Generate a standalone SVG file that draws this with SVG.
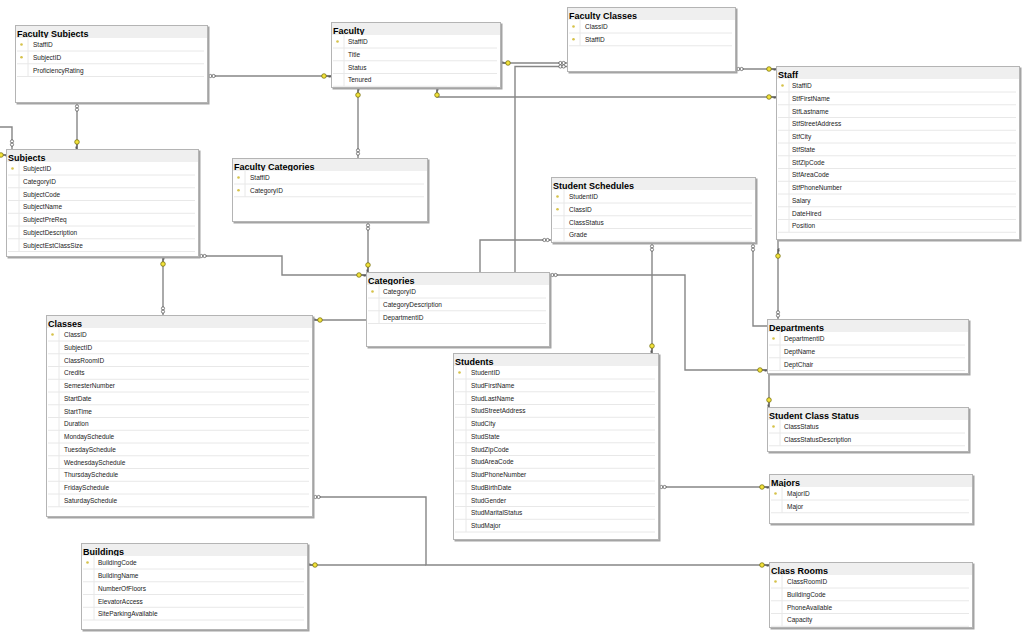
<svg xmlns="http://www.w3.org/2000/svg" xmlns:xlink="http://www.w3.org/1999/xlink" width="1024" height="638" viewBox="0 0 1024 638">
<style>
.sh{fill:#a4a4a4}
.fr{fill:#fff;stroke:#b4b4b4;stroke-width:1}
.hd{fill:#efefef}
.bd{fill:#fff}
.tt{font-family:"Liberation Sans",Arial,sans-serif;font-weight:bold;font-size:9px;fill:#000}
.fd{font-family:"Liberation Sans",Arial,sans-serif;font-size:6.5px;fill:#1a1a1a}
.sp{fill:none;stroke:#e8e8e8;stroke-width:1}
.pk{fill:#d6c24a}
.conn{fill:none;stroke:#868686;stroke-width:1.4}
</style>
<defs>
<g id="key"><path d="M2.3 0H7M5.2 0V1.8M7 0V1.8" fill="none" stroke="#404040" stroke-width="0.8"/><circle r="2.3" fill="#f3e33c" stroke="#6b6400" stroke-width="0.7"/></g>
<g id="inf"><circle cx="-1.6" r="1.6" fill="#fff" stroke="#333" stroke-width="0.6"/><circle cx="1.6" r="1.6" fill="#fff" stroke="#333" stroke-width="0.6"/></g>
</defs>
<rect width="1024" height="638" fill="#fff"/>
<g id="connectors">
<path class="conn" d="M208 76H331"/><use href="#inf" transform="translate(212,76)"/><use href="#key" transform="translate(324,76)"/>
<path class="conn" d="M77 103V149"/><use href="#inf" transform="translate(77,108) rotate(90)"/><use href="#key" transform="translate(77,142) rotate(90)"/>
<path class="conn" d="M358 88V158"/><use href="#key" transform="translate(358,95) rotate(-90)"/><use href="#inf" transform="translate(358,152) rotate(90)"/>
<path class="conn" d="M437 88V97H776"/><use href="#key" transform="translate(437,95) rotate(-90)"/><use href="#key" transform="translate(769,97)"/>
<path class="conn" d="M501 63H567"/><use href="#key" transform="translate(508,63) rotate(180)"/>
<path class="conn" d="M313 320H515V66.5H567"/><use href="#key" transform="translate(320,320) rotate(180)"/>
<use href="#inf" transform="translate(562,63)"/><use href="#inf" transform="translate(562,66.5)"/>
<path class="conn" d="M480 320V240H551"/><use href="#inf" transform="translate(546,240)"/>
<path class="conn" d="M736 69H776"/><use href="#inf" transform="translate(740,69)"/><use href="#key" transform="translate(769,69)"/>
<path class="conn" d="M12 149V127H0"/><use href="#inf" transform="translate(12,143) rotate(90)"/>
<path class="conn" d="M6 155H0"/><use href="#key" transform="translate(1,155)"/>
<path class="conn" d="M163 257V315"/><use href="#key" transform="translate(163,264) rotate(-90)"/><use href="#inf" transform="translate(163,310) rotate(90)"/>
<path class="conn" d="M199 256H282V275H366"/><use href="#inf" transform="translate(203,256)"/><use href="#key" transform="translate(359,275)"/>
<path class="conn" d="M368 222V272"/><use href="#inf" transform="translate(368,227) rotate(90)"/><use href="#key" transform="translate(368,265) rotate(90)"/>
<path class="conn" d="M652 243V353"/><use href="#inf" transform="translate(652,248) rotate(90)"/><use href="#key" transform="translate(652,346) rotate(90)"/>
<path class="conn" d="M753 243V326H769V407"/><use href="#inf" transform="translate(753,248) rotate(90)"/><use href="#key" transform="translate(769,400) rotate(90)"/>
<path class="conn" d="M550 275H685V370H767"/><use href="#inf" transform="translate(554,275)"/><use href="#key" transform="translate(760,370)"/>
<path class="conn" d="M778 240V319"/><use href="#key" transform="translate(778,256) rotate(-90)"/><use href="#inf" transform="translate(778,314) rotate(90)"/>
<path class="conn" d="M659 487H769"/><use href="#inf" transform="translate(663,487)"/><use href="#key" transform="translate(762,487)"/>
<path class="conn" d="M313 497H426V565H769"/><use href="#inf" transform="translate(317,497)"/><use href="#key" transform="translate(762,565)"/>
<path class="conn" d="M308 565H426"/><use href="#key" transform="translate(315,565) rotate(180)"/>
</g>

<g id="faculty-subjects" transform="translate(15,25)">
<rect class="sh" x="1.5" y="1.5" width="193" height="78"/><rect class="fr" x="0.5" y="0.5" width="192" height="77"/><rect class="hd" x="1" y="1" width="191" height="12"/>
<text class="tt" x="2" y="12">Faculty Subjects</text>
<rect class="bd" x="1" y="13" width="191" height="64"/>
<path class="sp" d="M2 26H189M2 38.75H189M2 51.5H189M13 13V51.5"/>
<circle class="pk" cx="6.5" cy="19.5" r="1.3"/><circle class="pk" cx="6.5" cy="32.25" r="1.3"/>
<text class="fd" x="18" y="22">StaffID</text><text class="fd" x="18" y="34.75">SubjectID</text><text class="fd" x="18" y="47.5">ProficiencyRating</text>
</g>

<g id="faculty" transform="translate(331,22)">
<rect class="sh" x="1.5" y="1.5" width="170" height="66"/><rect class="fr" x="0.5" y="0.5" width="169" height="65"/><rect class="hd" x="1" y="1" width="168" height="12"/>
<text class="tt" x="2" y="12">Faculty</text>
<rect class="bd" x="1" y="13" width="168" height="52"/>
<path class="sp" d="M2 26H166M2 38.75H166M2 51.5H166M2 64.25H166M13 13V64.25"/>
<circle class="pk" cx="6.5" cy="19.5" r="1.3"/>
<text class="fd" x="17" y="22">StaffID</text><text class="fd" x="17" y="34.75">Title</text><text class="fd" x="17" y="47.5">Status</text><text class="fd" x="17" y="60.25">Tenured</text>
</g>

<g id="faculty-classes" transform="translate(567,7)">
<rect class="sh" x="1.5" y="1.5" width="169" height="65"/><rect class="fr" x="0.5" y="0.5" width="168" height="64"/><rect class="hd" x="1" y="1" width="167" height="12"/>
<text class="tt" x="2" y="12">Faculty Classes</text>
<rect class="bd" x="1" y="13" width="167" height="51"/>
<path class="sp" d="M2 26H165M2 38.75H165M13 13V38.75"/>
<circle class="pk" cx="6.5" cy="19.5" r="1.3"/><circle class="pk" cx="6.5" cy="32.25" r="1.3"/>
<text class="fd" x="18" y="22">ClassID</text><text class="fd" x="18" y="34.75">StaffID</text>
</g>

<g id="staff" transform="translate(776,66)">
<rect class="sh" x="1.5" y="1.5" width="244" height="174"/><rect class="fr" x="0.5" y="0.5" width="243" height="173"/><rect class="hd" x="1" y="1" width="242" height="12"/>
<text class="tt" x="2" y="12">Staff</text>
<rect class="bd" x="1" y="13" width="242" height="160"/>
<path class="sp" d="M2 26H240M2 38.75H240M2 51.5H240M2 64.25H240M2 77H240M2 89.75H240M2 102.5H240M2 115.25H240M2 128H240M2 140.75H240M2 153.5H240M2 166.25H240M13 13V166.25"/>
<circle class="pk" cx="6.5" cy="19.5" r="1.3"/>
<text class="fd" x="16" y="22">StaffID</text><text class="fd" x="16" y="34.75">StfFirstName</text><text class="fd" x="16" y="47.5">StfLastname</text><text class="fd" x="16" y="60.25">StfStreetAddress</text><text class="fd" x="16" y="73">StfCity</text><text class="fd" x="16" y="85.75">StfState</text><text class="fd" x="16" y="98.5">StfZipCode</text><text class="fd" x="16" y="111.25">StfAreaCode</text><text class="fd" x="16" y="124">StfPhoneNumber</text><text class="fd" x="16" y="136.75">Salary</text><text class="fd" x="16" y="149.5">DateHired</text><text class="fd" x="16" y="162.25">Position</text>
</g>

<g id="subjects" transform="translate(6,149)">
<rect class="sh" x="1.5" y="1.5" width="193" height="108"/><rect class="fr" x="0.5" y="0.5" width="192" height="107"/><rect class="hd" x="1" y="1" width="191" height="12"/>
<text class="tt" x="2" y="12">Subjects</text>
<rect class="bd" x="1" y="13" width="191" height="94"/>
<path class="sp" d="M2 26H189M2 38.75H189M2 51.5H189M2 64.25H189M2 77H189M2 89.75H189M2 102.5H189M13 13V102.5"/>
<circle class="pk" cx="6.5" cy="19.5" r="1.3"/>
<text class="fd" x="17" y="22">SubjectID</text><text class="fd" x="17" y="34.75">CategoryID</text><text class="fd" x="17" y="47.5">SubjectCode</text><text class="fd" x="17" y="60.25">SubjectName</text><text class="fd" x="17" y="73">SubjectPreReq</text><text class="fd" x="17" y="85.75">SubjectDescription</text><text class="fd" x="17" y="98.5">SubjectEstClassSize</text>
</g>

<g id="faculty-categories" transform="translate(232,158)">
<rect class="sh" x="1.5" y="1.5" width="196" height="64"/><rect class="fr" x="0.5" y="0.5" width="195" height="63"/><rect class="hd" x="1" y="1" width="194" height="12"/>
<text class="tt" x="2" y="12">Faculty Categories</text>
<rect class="bd" x="1" y="13" width="194" height="50"/>
<path class="sp" d="M2 26H192M2 38.75H192M13 13V38.75"/>
<circle class="pk" cx="6.5" cy="19.5" r="1.3"/><circle class="pk" cx="6.5" cy="32.25" r="1.3"/>
<text class="fd" x="18" y="22">StaffID</text><text class="fd" x="18" y="34.75">CategoryID</text>
</g>

<g id="student-schedules" transform="translate(551,177)">
<rect class="sh" x="1.5" y="1.5" width="205" height="66"/><rect class="fr" x="0.5" y="0.5" width="204" height="65"/><rect class="hd" x="1" y="1" width="203" height="12"/>
<text class="tt" x="2" y="12">Student Schedules</text>
<rect class="bd" x="1" y="13" width="203" height="52"/>
<path class="sp" d="M2 26H201M2 38.75H201M2 51.5H201M2 64.25H201M13 13V64.25"/>
<circle class="pk" cx="6.5" cy="19.5" r="1.3"/><circle class="pk" cx="6.5" cy="32.25" r="1.3"/>
<text class="fd" x="18" y="22">StudentID</text><text class="fd" x="18" y="34.75">ClassID</text><text class="fd" x="18" y="47.5">ClassStatus</text><text class="fd" x="18" y="60.25">Grade</text>
</g>

<g id="categories" transform="translate(366,272)">
<rect class="sh" x="1.5" y="1.5" width="184" height="75"/><rect class="fr" x="0.5" y="0.5" width="183" height="74"/><rect class="hd" x="1" y="1" width="182" height="12"/>
<text class="tt" x="2" y="12">Categories</text>
<rect class="bd" x="1" y="13" width="182" height="61"/>
<path class="sp" d="M2 26H180M2 38.75H180M2 51.5H180M13 13V51.5"/>
<circle class="pk" cx="6.5" cy="19.5" r="1.3"/>
<text class="fd" x="17" y="22">CategoryID</text><text class="fd" x="17" y="34.75">CategoryDescription</text><text class="fd" x="17" y="47.5">DepartmentID</text>
</g>

<g id="classes" transform="translate(46,315)">
<rect class="sh" x="1.5" y="1.5" width="267" height="202"/><rect class="fr" x="0.5" y="0.5" width="266" height="201"/><rect class="hd" x="1" y="1" width="265" height="12"/>
<text class="tt" x="2" y="12">Classes</text>
<rect class="bd" x="1" y="13" width="265" height="188"/>
<path class="sp" d="M2 26H263M2 38.75H263M2 51.5H263M2 64.25H263M2 77H263M2 89.75H263M2 102.5H263M2 115.25H263M2 128H263M2 140.75H263M2 153.5H263M2 166.25H263M2 179H263M2 191.75H263M13 13V191.75"/>
<circle class="pk" cx="6.5" cy="19.5" r="1.3"/>
<text class="fd" x="18" y="22">ClassID</text><text class="fd" x="18" y="34.75">SubjectID</text><text class="fd" x="18" y="47.5">ClassRoomID</text><text class="fd" x="18" y="60.25">Credits</text><text class="fd" x="18" y="73">SemesterNumber</text><text class="fd" x="18" y="85.75">StartDate</text><text class="fd" x="18" y="98.5">StartTime</text><text class="fd" x="18" y="111.25">Duration</text><text class="fd" x="18" y="124">MondaySchedule</text><text class="fd" x="18" y="136.75">TuesdaySchedule</text><text class="fd" x="18" y="149.5">WednesdaySchedule</text><text class="fd" x="18" y="162.25">ThursdaySchedule</text><text class="fd" x="18" y="175">FridaySchedule</text><text class="fd" x="18" y="187.75">SaturdaySchedule</text>
</g>

<g id="students" transform="translate(453,353)">
<rect class="sh" x="1.5" y="1.5" width="206" height="187"/><rect class="fr" x="0.5" y="0.5" width="205" height="186"/><rect class="hd" x="1" y="1" width="204" height="12"/>
<text class="tt" x="2" y="12">Students</text>
<rect class="bd" x="1" y="13" width="204" height="173"/>
<path class="sp" d="M2 26H202M2 38.75H202M2 51.5H202M2 64.25H202M2 77H202M2 89.75H202M2 102.5H202M2 115.25H202M2 128H202M2 140.75H202M2 153.5H202M2 166.25H202M2 179H202M13 13V179"/>
<circle class="pk" cx="6.5" cy="19.5" r="1.3"/>
<text class="fd" x="18" y="22">StudentID</text><text class="fd" x="18" y="34.75">StudFirstName</text><text class="fd" x="18" y="47.5">StudLastName</text><text class="fd" x="18" y="60.25">StudStreetAddress</text><text class="fd" x="18" y="73">StudCity</text><text class="fd" x="18" y="85.75">StudState</text><text class="fd" x="18" y="98.5">StudZipCode</text><text class="fd" x="18" y="111.25">StudAreaCode</text><text class="fd" x="18" y="124">StudPhoneNumber</text><text class="fd" x="18" y="136.75">StudBirthDate</text><text class="fd" x="18" y="149.5">StudGender</text><text class="fd" x="18" y="162.25">StudMaritalStatus</text><text class="fd" x="18" y="175">StudMajor</text>
</g>

<g id="departments" transform="translate(767,319)">
<rect class="sh" x="1.5" y="1.5" width="202" height="55"/><rect class="fr" x="0.5" y="0.5" width="201" height="54"/><rect class="hd" x="1" y="1" width="200" height="12"/>
<text class="tt" x="2" y="12">Departments</text>
<rect class="bd" x="1" y="13" width="200" height="41"/>
<path class="sp" d="M2 26H198M2 38.75H198M2 51.5H198M13 13V51.5"/>
<circle class="pk" cx="6.5" cy="19.5" r="1.3"/>
<text class="fd" x="17" y="22">DepartmentID</text><text class="fd" x="17" y="34.75">DeptName</text><text class="fd" x="17" y="47.5">DeptChair</text>
</g>

<g id="student-class-status" transform="translate(767,407)">
<rect class="sh" x="1.5" y="1.5" width="202" height="45"/><rect class="fr" x="0.5" y="0.5" width="201" height="44"/><rect class="hd" x="1" y="1" width="200" height="12"/>
<text class="tt" x="2" y="12">Student Class Status</text>
<rect class="bd" x="1" y="13" width="200" height="31"/>
<path class="sp" d="M2 26H198M2 38.75H198M13 13V38.75"/>
<circle class="pk" cx="6.5" cy="19.5" r="1.3"/>
<text class="fd" x="17" y="22">ClassStatus</text><text class="fd" x="17" y="34.75">ClassStatusDescription</text>
</g>

<g id="majors" transform="translate(769,474)">
<rect class="sh" x="1.5" y="1.5" width="204" height="50"/><rect class="fr" x="0.5" y="0.5" width="203" height="49"/><rect class="hd" x="1" y="1" width="202" height="12"/>
<text class="tt" x="2" y="12">Majors</text>
<rect class="bd" x="1" y="13" width="202" height="36"/>
<path class="sp" d="M2 26H200M2 38.75H200M13 13V38.75"/>
<circle class="pk" cx="6.5" cy="19.5" r="1.3"/>
<text class="fd" x="18" y="22">MajorID</text><text class="fd" x="18" y="34.75">Major</text>
</g>

<g id="class-rooms" transform="translate(769,562)">
<rect class="sh" x="1.5" y="1.5" width="204" height="66"/><rect class="fr" x="0.5" y="0.5" width="203" height="65"/><rect class="hd" x="1" y="1" width="202" height="12"/>
<text class="tt" x="2" y="12">Class Rooms</text>
<rect class="bd" x="1" y="13" width="202" height="52"/>
<path class="sp" d="M2 26H200M2 38.75H200M2 51.5H200M2 64.25H200M13 13V64.25"/>
<circle class="pk" cx="6.5" cy="19.5" r="1.3"/>
<text class="fd" x="18" y="22">ClassRoomID</text><text class="fd" x="18" y="34.75">BuildingCode</text><text class="fd" x="18" y="47.5">PhoneAvailable</text><text class="fd" x="18" y="60.25">Capacity</text>
</g>

<g id="buildings" transform="translate(81,543)">
<rect class="sh" x="1.5" y="1.5" width="227" height="87"/><rect class="fr" x="0.5" y="0.5" width="226" height="86"/><rect class="hd" x="1" y="1" width="225" height="12"/>
<text class="tt" x="2" y="12">Buildings</text>
<rect class="bd" x="1" y="13" width="225" height="73"/>
<path class="sp" d="M2 26H223M2 38.75H223M2 51.5H223M2 64.25H223M2 77H223M13 13V77"/>
<circle class="pk" cx="6.5" cy="19.5" r="1.3"/>
<text class="fd" x="17" y="22">BuildingCode</text><text class="fd" x="17" y="34.75">BuildingName</text><text class="fd" x="17" y="47.5">NumberOfFloors</text><text class="fd" x="17" y="61">ElevatorAccess</text><text class="fd" x="17" y="73">SiteParkingAvailable</text>
</g>
</svg>
